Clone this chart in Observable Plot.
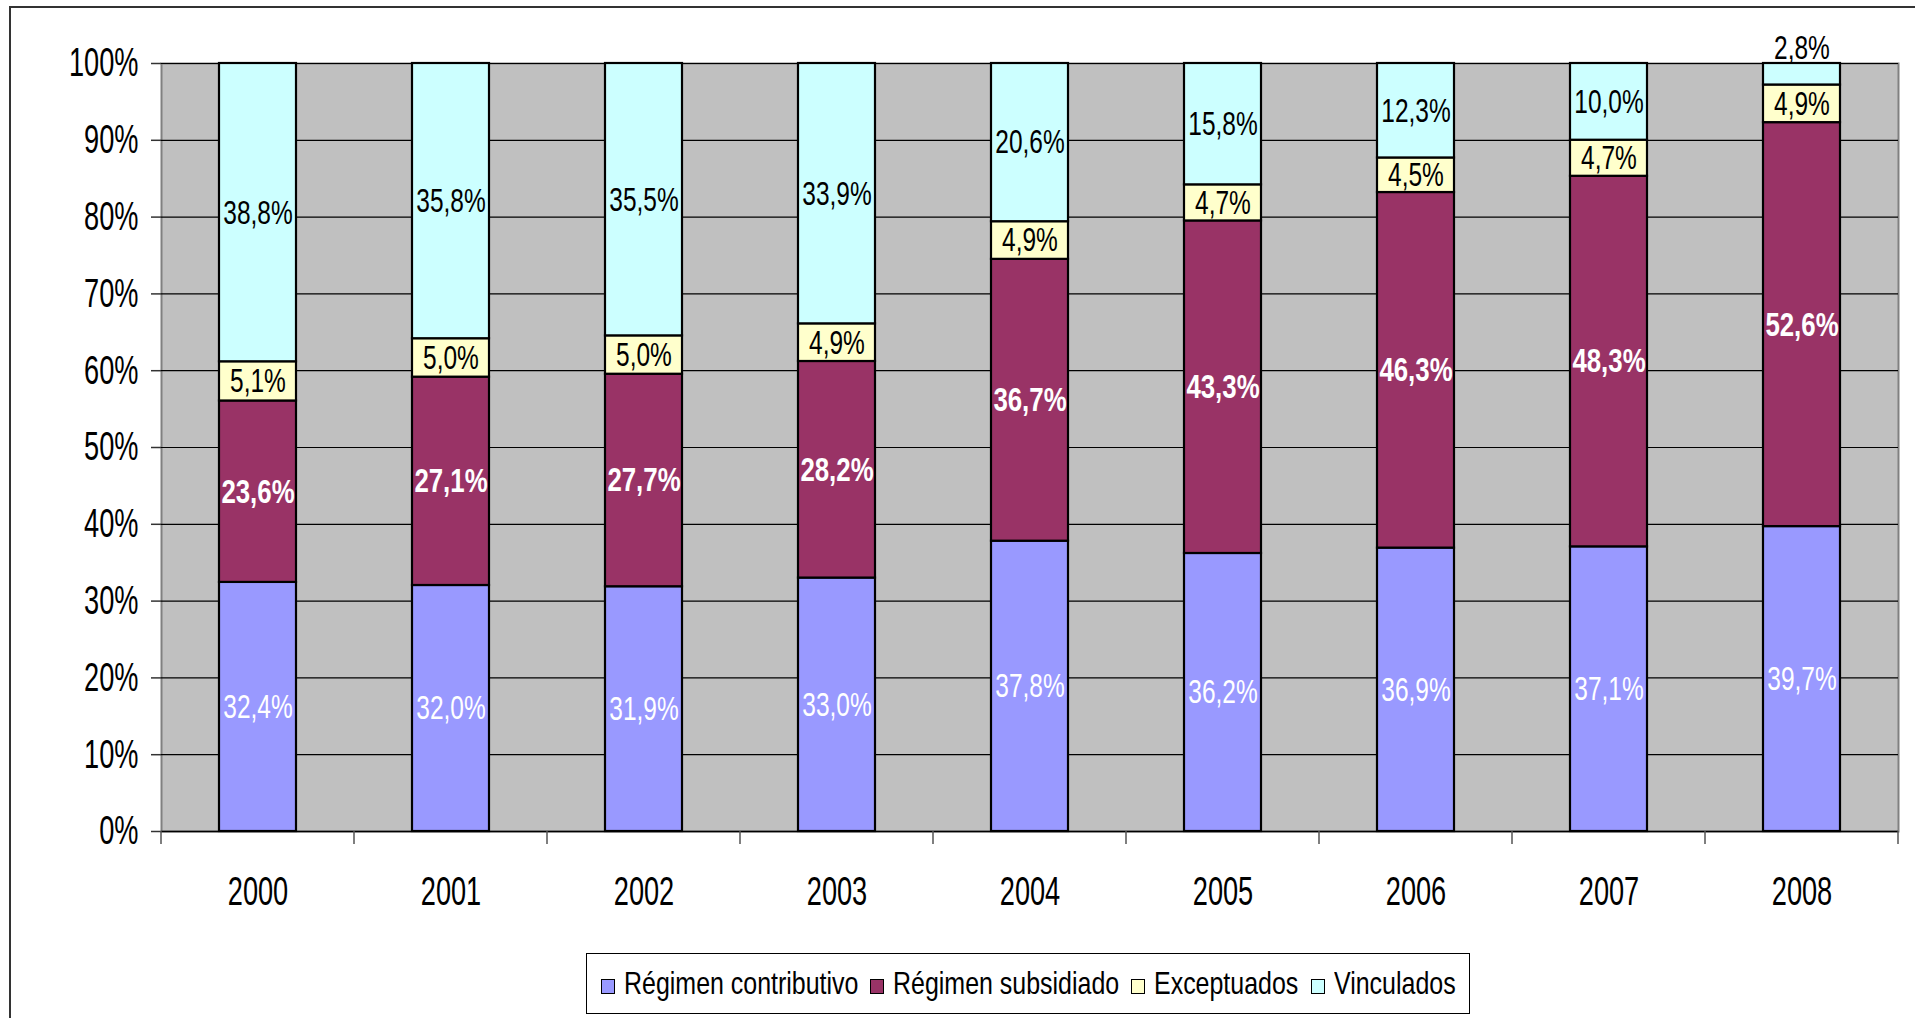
<!DOCTYPE html>
<html>
<head>
<meta charset="utf-8">
<script src="https://cdn.jsdelivr.net/npm/d3@7"></script>
<script src="https://cdn.jsdelivr.net/npm/@observablehq/plot@0.6"></script>
<style>
  html, body { margin: 0; padding: 0; background: #fff; width: 1915px; height: 1018px; overflow: hidden; }
  #wrap { position: relative; width: 1915px; height: 1018px; font-family: "Liberation Sans", Arial, sans-serif; }
  #border { position: absolute; left: 9px; top: 6px; width: 1950px; height: 1100px; border: 2px solid #333; box-sizing: border-box; }
  #chart { position: absolute; left: 0; top: 0; }
  #legend { position: absolute; left: 586px; top: 953px; width: 884px; height: 61px; border: 1.5px solid #000; box-sizing: border-box; background: #fff;
    display: flex; align-items: center; justify-content: center; font-size: 32px; color: #000; white-space: nowrap; }
  .item { display: flex; align-items: center; margin: 0 6px; }
  .sw { width: 12px; height: 13px; border: 1.5px solid #000; margin-right: 9px; margin-top: 5px; flex: none; }
  .lbl { display: inline-block; transform-origin: 0 50%; }
</style>
</head>
<body>
<div id="wrap">
  <div id="border"></div>
  <div id="chart"></div>
  <div id="legend"></div>
</div>
<script>
const years = ["2000", "2001", "2002", "2003", "2004", "2005", "2006", "2007", "2008"];
const seriesNames = ["Régimen contributivo", "Régimen subsidiado", "Exceptuados", "Vinculados"];
const seriesColors = ["#9999FF", "#993366", "#FFFFCC", "#CCFFFF"];
const contributivo = [32.4, 32.0, 31.9, 33.0, 37.8, 36.2, 36.9, 37.1, 39.7];
const subsidiado   = [23.6, 27.1, 27.7, 28.2, 36.7, 43.3, 46.3, 48.3, 52.6];
const exceptuados  = [5.1, 5.0, 5.0, 4.9, 4.9, 4.7, 4.5, 4.7, 4.9];
const vinculados   = [38.8, 35.8, 35.5, 33.9, 20.6, 15.8, 12.3, 10.0, 2.8];
const yTicks = [0, 0.1, 0.2, 0.3, 0.4, 0.5, 0.6, 0.7, 0.8, 0.9, 1.0];

const seriesValues = [contributivo, subsidiado, exceptuados, vinculados];
const data = [];
seriesNames.forEach((s, si) => {
  years.forEach((y, yi) => data.push({ year: y, series: s, si, value: seriesValues[si][yi] }));
});
const fmt = v => v.toFixed(1).replace(".", ",") + "%";
const small = d => d.value < 4;

const FONT = '"Liberation Sans", Arial, sans-serif';
const W = 1915, H = 940, ML = 161, MR = 17, MT = 63, MB = 109;
const AXIS_FS = 40, LABEL_FS = 34;

// category-boundary tick marks below the x axis
function boundaryTicks(index, scales, values, dims) {
  const g = d3.create("svg:g");
  const left = dims.marginLeft, right = dims.width - dims.marginRight;
  const n = years.length, step = (right - left) / n;
  const y0 = dims.height - dims.marginBottom;
  for (let i = 0; i <= n; i++) {
    g.append("line").attr("x1", left + i * step).attr("x2", left + i * step)
      .attr("y1", y0).attr("y2", y0 + 13).attr("stroke", "#555").attr("stroke-width", 1.5);
  }
  return g.node();
}

const stackOpts = { x: "year", y: "value", z: "series", order: seriesNames, offset: "normalize" };

const chart = Plot.plot({
  width: W, height: H,
  marginLeft: ML, marginRight: MR, marginTop: MT, marginBottom: MB,
  style: { fontFamily: FONT, background: "transparent", overflow: "visible" },
  x: { domain: years, paddingInner: 0.6, paddingOuter: 0.3, axis: null },
  y: { domain: [0, 1], axis: null },
  color: { domain: seriesNames, range: seriesColors },
  marks: [
    Plot.frame({ fill: "#C0C0C0", stroke: "#808080", strokeWidth: 2 }),
    Plot.gridY(yTicks, { stroke: "#000", strokeOpacity: 1, strokeWidth: 1.2 }),
    Plot.barY(data, Plot.stackY({ ...stackOpts, fill: "series", stroke: "#000", strokeWidth: 2.2 })),
    // contributivo labels: white, regular
    Plot.text(data, Plot.stackY({ ...stackOpts,
      text: d => (d.si === 0 && !small(d) ? fmt(d.value) : ""), fill: "#fff", fontSize: LABEL_FS })),
    // subsidiado labels: white, bold
    Plot.text(data, Plot.stackY({ ...stackOpts,
      text: d => (d.si === 1 && !small(d) ? fmt(d.value) : ""), fill: "#fff", fontWeight: "bold", fontSize: LABEL_FS })),
    // exceptuados / vinculados labels: black, regular
    Plot.text(data, Plot.stackY({ ...stackOpts,
      text: d => (d.si >= 2 && !small(d) ? fmt(d.value) : ""), fill: "#000", fontSize: LABEL_FS })),
    // small segments: label above the segment top
    Plot.text(data, Plot.stackY2({ ...stackOpts,
      text: d => (small(d) ? fmt(d.value) : ""), fill: "#000", fontSize: LABEL_FS, lineAnchor: "bottom", dy: -5 })),
    Plot.ruleY([0], { stroke: "#000", strokeWidth: 1.5 }),
    Plot.axisY(yTicks, {
      label: null, tickFormat: d => Math.round(d * 100) + "%", tickSize: 10, tickPadding: 13,
      fontSize: AXIS_FS, stroke: "#333", strokeWidth: 1.5, fill: "#000"
    }),
    boundaryTicks,
    Plot.axisX({ label: null, tickSize: 0, tickPadding: 45, fontSize: AXIS_FS, fill: "#000" })
  ]
});
document.getElementById("chart").appendChild(chart);

// horizontally condense the text (reference uses a narrow face)
chart.querySelectorAll("text").forEach(t => {
  const fsEl = t.closest("[font-size]");
  const fs = fsEl ? parseFloat(fsEl.getAttribute("font-size")) : 0;
  const fwEl = t.closest("[font-weight]");
  const bold = fwEl && fwEl.getAttribute("font-weight") === "bold";
  const k = fs >= 38 ? 0.68 : (bold ? 0.76 : 0.72);
  let tr = t.getAttribute("transform") || "";
  const x = t.getAttribute("x");
  if (x != null && isFinite(+x) && +x !== 0) {
    tr += ` translate(${+x},0)`;
    t.removeAttribute("x");
  }
  t.setAttribute("transform", tr + ` scale(${k},1)`);
});

const legend = document.getElementById("legend");
const LK = 0.78;
seriesNames.forEach((s, i) => {
  const item = document.createElement("div");
  item.className = "item";
  const sw = document.createElement("div");
  sw.className = "sw";
  sw.style.background = seriesColors[i];
  const box = document.createElement("span");
  box.style.display = "inline-block";
  box.style.overflow = "visible";
  const t = document.createElement("span");
  t.className = "lbl";
  t.textContent = s;
  box.appendChild(t);
  item.appendChild(sw); item.appendChild(box);
  legend.appendChild(item);
  const w = t.getBoundingClientRect().width;
  box.style.width = (w * LK) + "px";
  t.style.transform = `scaleX(${LK})`;
});
</script>
</body>
</html>
